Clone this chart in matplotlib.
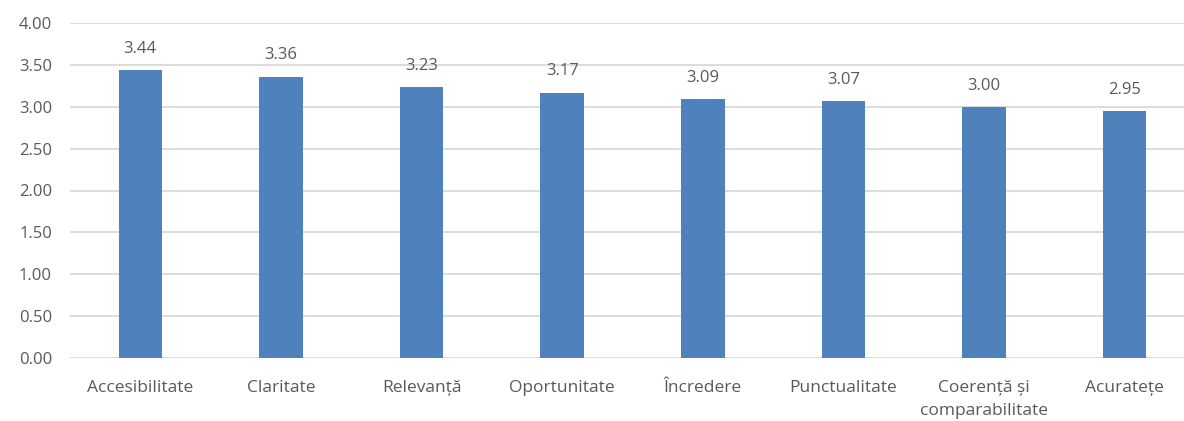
import numpy as np
import matplotlib.pyplot as plt

categories = ["Accesibilitate", "Claritate", "Relevanță", "Oportunitate", "Încredere",
              "Punctualitate", "Coerență și\ncomparabilitate", "Acuratețe"]
scores = [3.44, 3.36, 3.23, 3.17, 3.09, 3.07, 3.00, 2.95]
y_ticks = [0.0, 0.5, 1.0, 1.5, 2.0, 2.5, 3.0, 3.5, 4.0]

plt.rcParams['font.family'] = ['Open Sans', 'DejaVu Sans']
text_color = '#595959'

fig = plt.figure(figsize=(11.84, 4.21), dpi=100)
# axes run past the right edge of the figure on purpose
ax = fig.add_axes([70 / 1184, 63 / 421, 1125 / 1184, 335 / 421])

x = np.arange(len(categories))
bars = ax.bar(x, scores, width=0.31, color='#4F81BD', zorder=3)

for xi, v in zip(x, scores):
    ax.annotate(f"{v:.2f}", (xi, v), xytext=(0, 9.5), textcoords='offset points',
                ha='center', va='bottom', fontsize=12, color=text_color)

ax.set_xlim(-0.5, len(categories) - 0.5)
ax.set_ylim(0, 4)
ax.set_yticks(y_ticks)
ax.set_yticklabels([f"{t:.2f}" for t in y_ticks])
ax.set_xticks(x)
ax.set_xticklabels(categories, linespacing=1.6)

ax.grid(axis='y', color='#D9D9D9', linewidth=1.3, zorder=0)
for side in ['top', 'right', 'left', 'bottom']:
    ax.spines[side].set_visible(False)
ax.tick_params(axis='both', length=0, labelcolor=text_color)
ax.tick_params(axis='y', pad=13, labelsize=12)
ax.tick_params(axis='x', pad=16, labelsize=12.5)

fig.savefig('out.png', dpi=100)
